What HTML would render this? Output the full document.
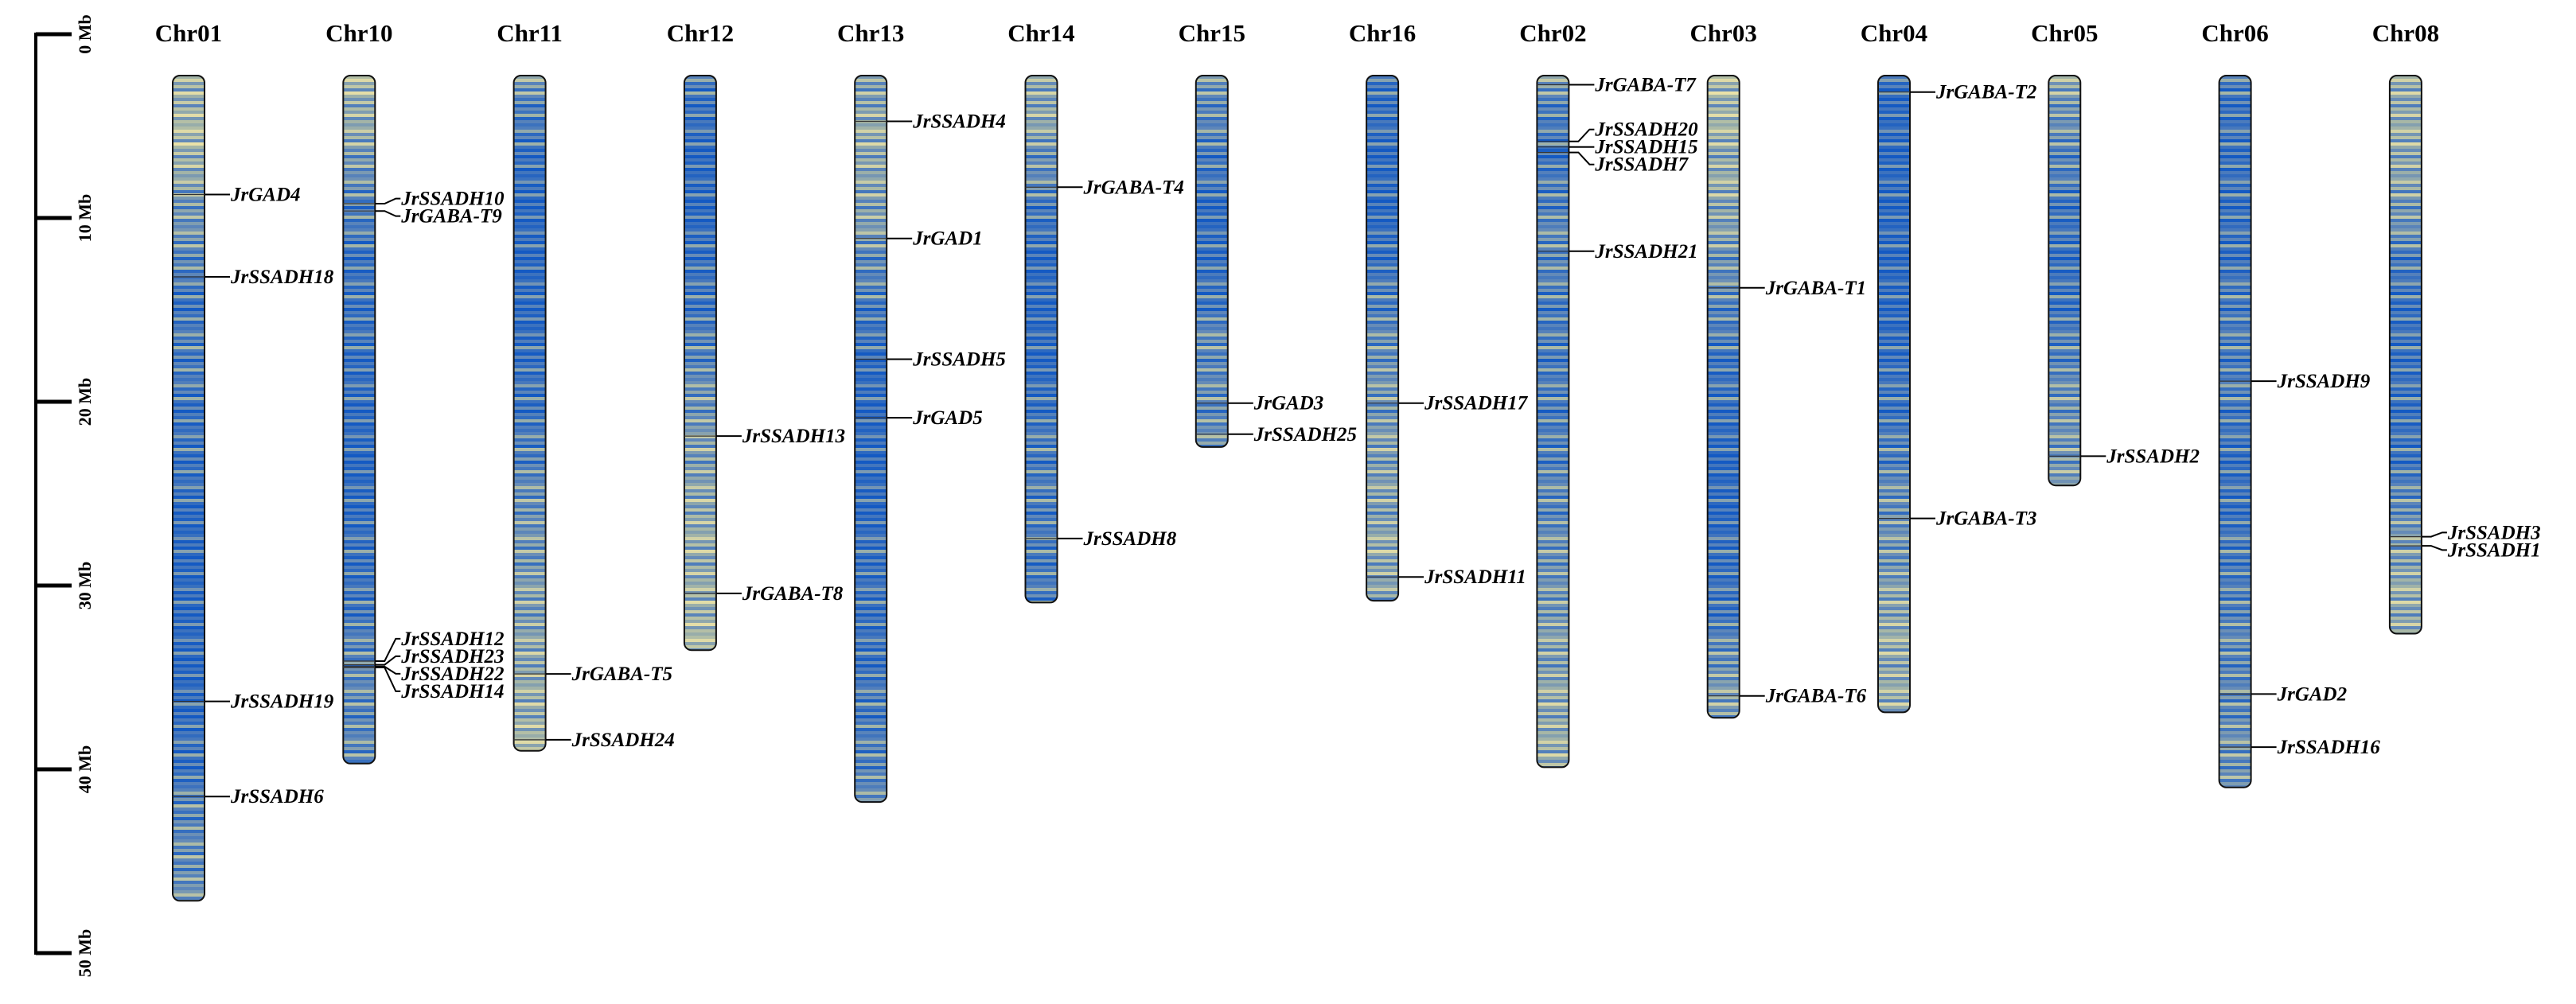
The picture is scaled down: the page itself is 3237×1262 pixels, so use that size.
<!DOCTYPE html>
<html><head><meta charset="utf-8">
<style>
html,body{margin:0;padding:0;background:#fff;}
svg{display:block;font-family:"Liberation Serif",serif;}
</style></head>
<body>
<svg id="chart" width="3237" height="1262" viewBox="0 0 3237 1262" xmlns="http://www.w3.org/2000/svg"></svg>
<script>
// ---- data ----
const chromNames = ["Chr01","Chr10","Chr11","Chr12","Chr13","Chr14","Chr15","Chr16","Chr02","Chr03","Chr04","Chr05","Chr06","Chr08"];
const chromLengths = [45.1,37.6,36.9,31.4,39.7,28.8,20.3,28.7,37.8,35.1,34.8,22.4,38.9,30.5];
const axisTicks = [0,10,20,30,40,50];
const axisTickLabels = ["0 Mb","10 Mb","20 Mb","30 Mb","40 Mb","50 Mb"];
const densityProfiles = [
 [0.3,0.2,0.2,0.4,0.5,0.6,0.8,0.7,0.7,0.8,0.8,0.8,0.9,0.9,0.9,0.9,0.9,0.9,0.8,0.8,0.6,0.6,0.5],
 [0.2,0.3,0.4,0.6,0.7,0.8,0.8,0.8,0.85,0.85,0.9,0.9,0.85,0.8,0.8,0.7,0.6,0.6,0.6],
 [0.4,0.7,0.8,0.9,0.9,0.9,0.9,0.9,0.8,0.8,0.7,0.6,0.5,0.5,0.4,0.4,0.3,0.3,0.2],
 [0.7,0.8,0.9,0.9,0.9,0.8,0.8,0.7,0.6,0.5,0.4,0.4,0.3,0.3,0.3,0.2],
 [0.5,0.3,0.3,0.4,0.4,0.6,0.7,0.8,0.9,0.9,0.9,0.9,0.9,0.8,0.8,0.8,0.8,0.7,0.7,0.6],
 [0.4,0.3,0.5,0.6,0.8,0.9,0.9,0.9,0.9,0.8,0.7,0.7,0.7,0.7,0.7],
 [0.5,0.6,0.7,0.8,0.9,0.8,0.8,0.6,0.6,0.6,0.5],
 [0.8,0.8,0.9,0.9,0.9,0.8,0.7,0.6,0.5,0.5,0.4,0.4,0.4,0.3,0.4],
 [0.4,0.7,0.8,0.7,0.6,0.6,0.7,0.7,0.7,0.7,0.7,0.6,0.6,0.5,0.5,0.4,0.4,0.3,0.3],
 [0.2,0.2,0.3,0.3,0.4,0.5,0.6,0.7,0.8,0.8,0.9,0.9,0.9,0.8,0.8,0.7,0.5,0.4],
 [0.8,0.9,0.9,0.9,0.9,0.9,0.9,0.9,0.8,0.8,0.7,0.6,0.5,0.5,0.4,0.3,0.3,0.3],
 [0.3,0.5,0.6,0.7,0.8,0.8,0.8,0.7,0.6,0.5,0.5,0.4],
 [0.7,0.8,0.8,0.8,0.8,0.8,0.7,0.7,0.7,0.7,0.8,0.8,0.8,0.7,0.7,0.6,0.6,0.6,0.5,0.5],
 [0.3,0.3,0.3,0.4,0.5,0.7,0.8,0.8,0.8,0.8,0.8,0.7,0.5,0.4,0.3,0.3]
];
const geneNames = ["JrGAD4","JrSSADH18","JrSSADH19","JrSSADH6",
 "JrSSADH10","JrGABA-T9","JrSSADH12","JrSSADH23","JrSSADH22","JrSSADH14",
 "JrGABA-T5","JrSSADH24","JrSSADH13","JrGABA-T8",
 "JrSSADH4","JrGAD1","JrSSADH5","JrGAD5","JrGABA-T4","JrSSADH8",
 "JrGAD3","JrSSADH25","JrSSADH17","JrSSADH11",
 "JrGABA-T7","JrSSADH20","JrSSADH15","JrSSADH7","JrSSADH21",
 "JrGABA-T1","JrGABA-T6","JrGABA-T2","JrGABA-T3","JrSSADH2",
 "JrSSADH9","JrGAD2","JrSSADH16","JrSSADH3","JrSSADH1"];
const geneChrom = [0,0,0,0, 1,1,1,1,1,1, 2,2,3,3, 4,4,4,4,5,5, 6,6,7,7, 8,8,8,8,8, 9,9,10,10,11, 12,12,12,13,13];
const genePosMb = [6.5,11.0,34.2,39.4, 7.0,7.4,32.0,32.2,32.3,32.35, 32.7,36.3,19.7,28.3,
 2.5,8.9,15.5,18.7,6.1,25.3, 17.9,19.6,17.9,27.4, 0.5,3.6,3.9,4.2,9.6, 11.6,33.9,0.9,24.2,20.8,
 16.7,33.8,36.7,25.2,25.7];

// ---- layout ----
const NS="http://www.w3.org/2000/svg";
const svg=document.getElementById('chart');
const Y0=95, PXMB=23.0, X0=237, DX=214.3, BW=40;
const axisTop=43, axisPx=23.1;
const yScale=mb=>Y0+mb*PXMB;
const xScale=i=>X0+i*DX;
function mk(tag,attrs,parent){const e=document.createElementNS(NS,tag);for(const k in attrs)e.setAttribute(k,attrs[k]);(parent||svg).appendChild(e);return e;}
const defs=mk('defs',{});

// axis
const axisG=mk('g',{});


mk('line',{x1:45,y1:axisTop-2,x2:45,y2:axisTop+50*axisPx+2,stroke:'#000','stroke-width':4},axisG);
axisTicks.forEach((t,i)=>{
  const y=axisTop+t*axisPx;
  const tk=mk('line',{x1:45,y1:y,x2:90,y2:y,stroke:'#000','stroke-width':5},axisG);
  
  
  const tx=mk('text',{x:0,y:0,transform:`translate(114,${y}) rotate(-90)`,'text-anchor':'middle','font-size':22,'font-weight':'bold'},axisG);
  tx.textContent=axisTickLabels[i];
  
  
});

// colormap
const stops=[[0,[241,230,168]],[0.4,[168,184,166]],[0.65,[95,135,185]],[1,[20,90,195]]];
function cmap(v){v=Math.max(0,Math.min(1,v));for(let i=1;i<stops.length;i++){if(v<=stops[i][0]){const a=stops[i-1],b=stops[i];const t=(v-a[0])/(b[0]-a[0]);const c=a[1].map((x,j)=>Math.round(x+(b[1][j]-x)*t));return `rgb(${c})`;}}return 'rgb(20,90,195)';}
const texture=[0,-0.25,0.15,-0.1,0.28,-0.32,0.05,0.2,-0.15,0.3,-0.05,0.12,-0.28,0.22,-0.02,0.1];

chromNames.forEach((name,i)=>{
  const cx=xScale(i), x=cx-BW/2, top=Y0, h=chromLengths[i]*PXMB;
  const g=mk('g',{});
  
  
  const t=mk('text',{x:cx,y:52,'text-anchor':'middle','font-size':31,'font-weight':'bold'},g);
  t.textContent=name;
  
  
  const cp=mk('clipPath',{id:'cp'+i},defs);
  mk('rect',{x:x,y:top,width:BW,height:h,rx:9,ry:9},cp);
  const bands=mk('g',{'clip-path':`url(#cp${i})`},g);
  const prof=densityProfiles[i];
  const step=4;
  for(let k=0;k*step<h;k++){
    const mb=(k*step)/PXMB;
    const f=mb/2; const a=Math.min(prof.length-1,Math.floor(f)), b=Math.min(prof.length-1,a+1);
    const base=prof[a]+(prof[b]-prof[a])*(f-a);
    const v=0.22+0.68*base+texture[k%texture.length];
    mk('rect',{x:x,y:top+k*step,width:BW,height:step+0.5,fill:cmap(v)},bands);
  }
  const ol=mk('rect',{x:x,y:top,width:BW,height:h,rx:9,ry:9,fill:'none',stroke:'#111','stroke-width':2},g);
  
  
});

// gene labels with collision avoidance
const GAP=22;
chromNames.forEach((name,ci)=>{
  const idx=geneNames.map((n,i)=>i).filter(i=>geneChrom[i]===ci).sort((a,b)=>genePosMb[a]-genePosMb[b]);
  const gy=idx.map(i=>yScale(genePosMb[i]));
  const ly=gy.slice();
  let clusters=[[0]];
  for(let k=1;k<idx.length;k++){
    if(gy[k]-gy[k-1]<GAP) clusters[clusters.length-1].push(k); else clusters.push([k]);
  }
  clusters.forEach(cl=>{
    if(cl.length<2||!idx.length) return;
    const mean=cl.reduce((s,k)=>s+gy[k],0)/cl.length;
    const start=mean-(cl.length-1)*GAP/2;
    cl.forEach((k,j)=>ly[k]=start+j*GAP);
  });
  const cx=xScale(ci), rx=cx+BW/2;
  idx.forEach((gi,k)=>{
    const g=mk('g',{});
    
    
    mk('line',{x1:cx-BW/2,y1:gy[k],x2:rx,y2:gy[k],stroke:'#333','stroke-width':1.2},g);
    mk('polyline',{points:`${rx},${gy[k]} ${rx+12},${gy[k]} ${rx+26},${ly[k]} ${rx+32},${ly[k]}`,fill:'none',stroke:'#000','stroke-width':2},g);
    const tx=mk('text',{x:rx+33,y:ly[k]+8,'font-size':25,'font-weight':'bold','font-style':'italic'},g);
    tx.textContent=geneNames[gi];
    
    
  });
});
</script>
</body></html>
